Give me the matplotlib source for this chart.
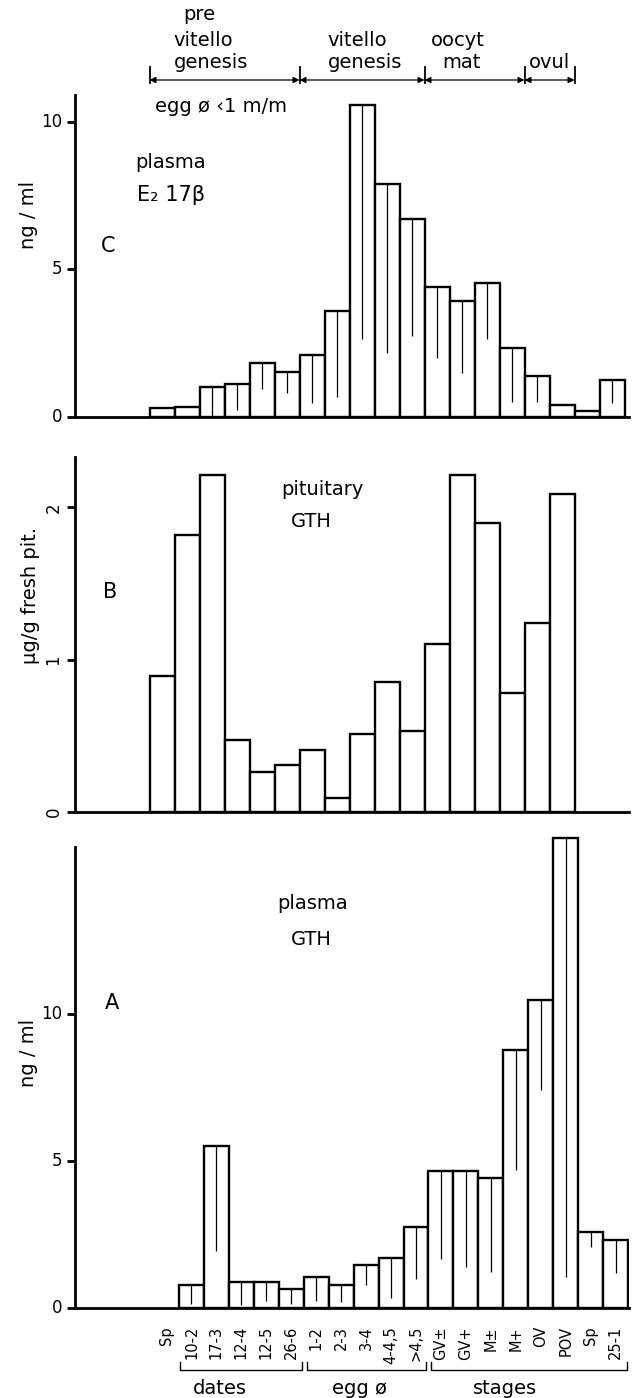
import numpy as np
import matplotlib.pyplot as plt
import matplotlib.transforms as mtransforms
from matplotlib.lines import Line2D

# x axis classes shared by the three panels (dates, egg diameter, stages)
labels = ["Sp", "10-2", "17-3", "12-4", "12-5", "26-6", "1-2", "2-3", "3-4", "4-4,5", ">4,5",
          "GV±", "GV+", "M±", "M+", "OV", "POV", "Sp", "25-1"]

# C: plasma E2 17beta, ng/ml (bar height and lower end of the sd line)
e2_mean = [0.29, 0.33, 1.03, 1.12, 1.84, 1.53, 2.10, 3.60, 10.56, 7.90, 6.70,
           4.41, 3.93, 4.55, 2.32, 1.39, 0.41, 0.20, 1.25]
e2_low = [np.nan, np.nan, 0.02, 0.24, 0.94, 0.82, 0.46, 0.69, 2.63, 2.18, 2.74,
          1.99, 1.48, 2.64, 0.52, 0.52, np.nan, np.nan, 0.47]

# B: pituitary GTH, ug/g fresh pituitary
pit_gth = [0.89, 1.82, 2.21, 0.47, 0.26, 0.31, 0.41, 0.09, 0.51, 0.85, 0.53,
           1.10, 2.21, 1.90, 0.78, 1.24, 2.09, np.nan, np.nan]

# A: plasma GTH, ng/ml
gth_mean = [np.nan, 0.78, 5.50, 0.87, 0.87, 0.66, 1.07, 0.77, 1.46, 1.69, 2.74,
            4.67, 4.67, 4.41, 8.77, 10.48, 16.00, 2.58, 2.32]
gth_low = [np.nan, 0.14, 1.95, 0.10, 0.25, 0.14, 0.25, 0.20, 0.78, 0.33, 0.98,
           1.67, 1.41, 1.24, 4.70, 7.42, 1.07, 2.08, 1.19]

# reproductive phases above panel C (bar edges)
phases = [(-0.5, 5.5), (5.5, 10.5), (10.5, 14.5), (14.5, 16.5)]
# groups under panel A
groups = [(0.55, 5.45, "dates", 2.15), (5.62, 10.42, "egg ø", 7.75), (10.62, 18.45, "stages", 13.55)]

W, H = 639, 1398
plt.rcParams['font.family'] = ['DejaVu Sans']


def box(left, top, right, bottom):
    return [left / W, 1 - bottom / H, (right - left) / W, (bottom - top) / H]


def fy(py):
    return 1 - py / H


def fig_text(px, py, s, size=14, **kw):
    fig.text(px / W, fy(py), s, fontsize=size, ha='center', va='baseline', **kw)


def draw_panel(ax, values, low, xlim, ymax, ticks, spine_top, rot=0):
    x = np.arange(len(values))
    v = np.array(values, dtype=float)
    m = ~np.isnan(v)
    ax.bar(x[m], v[m], width=1, color='white', edgecolor='black', linewidth=1.7, zorder=2)
    if low is not None:
        lo = np.array(low, dtype=float)
        k = m & ~np.isnan(lo)
        ax.vlines(x[k], lo[k], v[k], color='black', lw=0.9, zorder=3)
    ax.set_xlim(*xlim)
    ax.set_ylim(0, ymax)
    ax.spines[['top', 'right']].set_visible(False)
    ax.spines['left'].set_linewidth(2)
    ax.spines['bottom'].set_linewidth(2)
    ax.spines['left'].set_bounds(0, spine_top)
    ax.set_yticks(ticks)
    ax.set_yticklabels([str(t) for t in ticks], rotation=rot, va='center')
    ax.tick_params(axis='y', direction='out', length=6, width=2, labelsize=12, pad=3)
    ax.tick_params(axis='x', length=0)
    ax.set_xticks([])


fig = plt.figure(figsize=(W / 100, H / 100), dpi=100)
ax_c = fig.add_axes(box(75, 95, 629, 417))
ax_b = fig.add_axes(box(75, 457, 629, 812))
ax_a = fig.add_axes(box(75, 832, 629, 1308))

draw_panel(ax_c, e2_mean, e2_low, (-3.48, 18.68), 10.9, [0, 5, 10], 10.9)
draw_panel(ax_b, pit_gth, None, (-3.48, 18.68), 2.33, [0, 1, 2], 2.33, rot=90)
draw_panel(ax_a, gth_mean, gth_low, (-3.67, 18.54), 16.2, [0, 5, 10], 15.7)

# x labels under panel A
ax_a.set_xticks(np.arange(len(labels)))
ax_a.set_xticklabels(labels, rotation=90, fontsize=10.5)
ax_a.tick_params(axis='x', length=0, pad=13)

# phase arrows above panel C
tr_c = mtransforms.blended_transform_factory(ax_c.transData, fig.transFigure)
for x0, x1 in phases:
    ax_c.annotate('', xy=(x1, fy(80)), xytext=(x0, fy(80)), xycoords=tr_c, textcoords=tr_c,
                  arrowprops=dict(arrowstyle='<|-|>', color='black', lw=0.9,
                                  mutation_scale=9, shrinkA=0, shrinkB=0),
                  annotation_clip=False)
for xb in sorted(set([p for ph in phases for p in ph])):
    ax_c.add_line(Line2D([xb, xb], [fy(67), fy(83)], transform=tr_c, color='black',
                         lw=1.3, clip_on=False))

fig_text(199, 20, "pre", 14)
fig_text(203, 46, "vitello", 14)
fig_text(211, 68, "genesis", 14)
fig_text(357, 46, "vitello", 14)
fig_text(365, 68, "genesis", 14)
fig_text(458, 46, "oocyt", 14)
fig_text(461, 68, "mat", 14)
fig_text(550, 68, "ovul", 14)
fig_text(221, 112, "egg ø ‹1 m/m", 14)

# panel C annotations
fig_text(171, 168, "plasma", 14)
fig_text(171, 201, "E₂ 17β", 15)
fig_text(108, 252, "C", 15)
fig.text(28 / W, fy(215), "ng / ml", fontsize=14, rotation=90, ha='center', va='center')

# panel B annotations
fig_text(322, 495, "pituitary", 14)
fig_text(311, 527, "GTH", 14)
fig_text(110, 598, "B", 15)
fig.text(31 / W, fy(595), "μg/g fresh pit.", fontsize=14, rotation=90, ha='center', va='center')

# panel A annotations
fig_text(313, 909, "plasma", 14)
fig_text(311, 945, "GTH", 14)
fig_text(112, 1009, "A", 15)
fig.text(28 / W, fy(1053), "ng / ml", fontsize=14, rotation=90, ha='center', va='center')

# group brackets under panel A
tr_a = mtransforms.blended_transform_factory(ax_a.transData, fig.transFigure)
for x0, x1, name, xt in groups:
    ax_a.add_line(Line2D([x0, x0, x1, x1], [fy(1362), fy(1370), fy(1370), fy(1362)],
                         transform=tr_a, color='black', lw=1.0, clip_on=False))
    ax_a.text(xt, fy(1394), name, transform=tr_a, fontsize=14, ha='center', va='baseline')

fig.savefig('out.png', dpi=100)
